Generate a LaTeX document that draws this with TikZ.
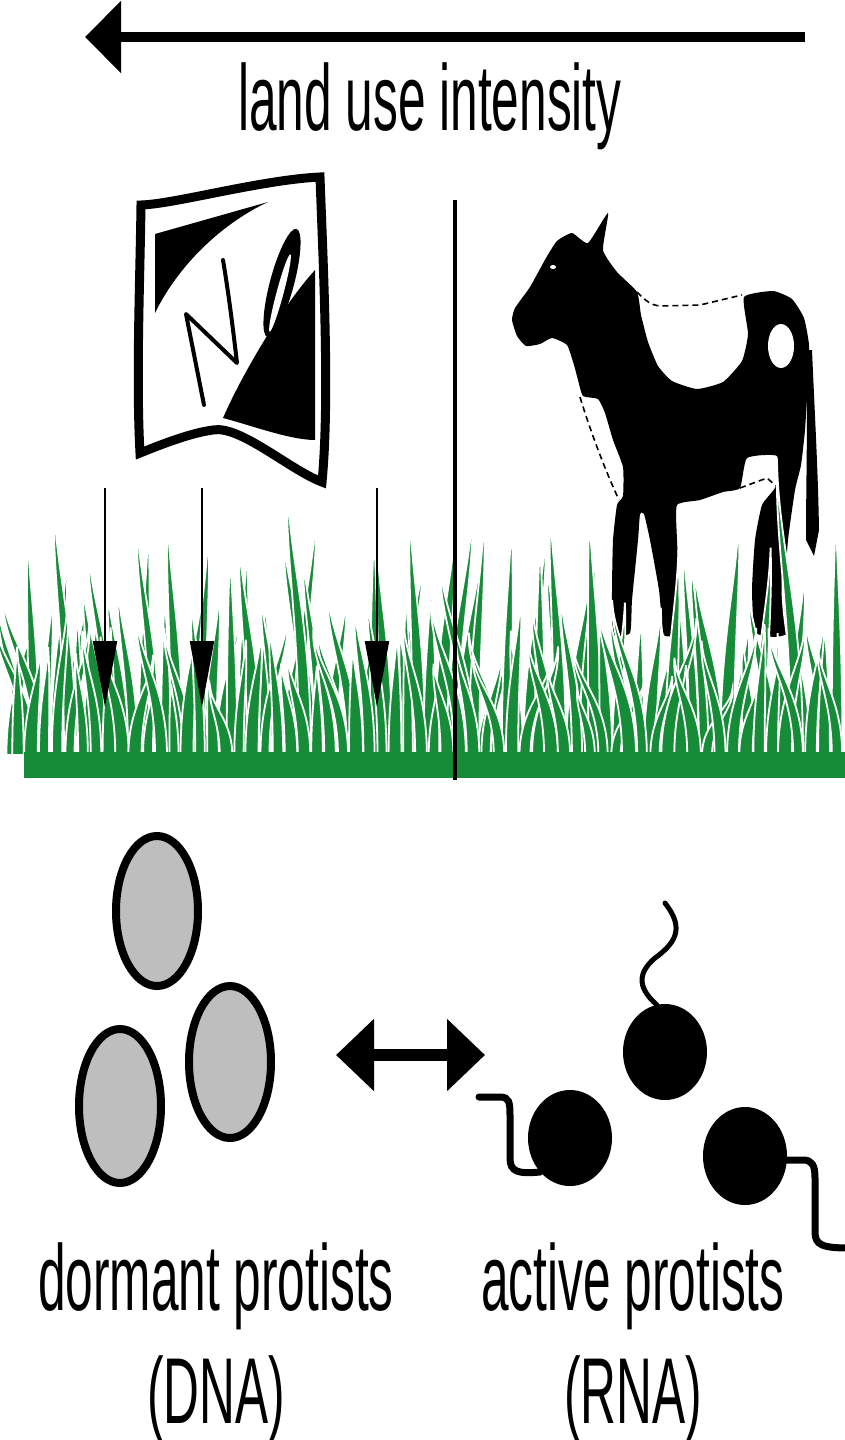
\documentclass[tikz,border=0pt]{standalone}
\usepackage{fontspec}
\newfontfamily\labelfont[FakeStretch=0.53]{Liberation Sans}
\usepackage{tikz}
\usetikzlibrary{arrows.meta}

\definecolor{grassgreen}{RGB}{22,140,56}
\definecolor{cellgray}{RGB}{190,190,190}

% one grass blade: base x, half width, tip x, tip y
\newcommand{\blade}[4]{%
  \filldraw[blade] ({#1-#2},755) .. controls ({#1-#2},{(755+#4)/2}) and ({#3-2},{#4+0.3*(755-#4)}) .. (#3,#4)
    .. controls ({#3+2},{#4+0.3*(755-#4)}) and ({#1+#2},{(755+#4)/2}) .. ({#1+#2},755) -- cycle;}

\begin{document}
\begin{tikzpicture}[x=0.5pt,y=-0.5pt,
  label/.style={font=\labelfont\fontsize{46.8}{56}\selectfont, inner sep=0pt, anchor=base},
  blade/.style={fill=grassgreen, draw=white, line width=0.9pt},
  bigarrow/.style={line width=5pt, -{Triangle[length=18pt,width=35pt]}},
  droparrow/.style={line width=1pt, -{Triangle[length=33pt,width=12pt]}},
  swaparrow/.style={line width=6pt, {Triangle[length=19pt,width=35pt]}-{Triangle[length=19pt,width=35pt]}},
  dormant/.style={fill=cellgray, draw=black, line width=4pt},
  flagellum/.style={line width=3.5pt, line cap=round},
  patchline/.style={line width=0.8pt, dash pattern=on 3pt off 2pt}]
\useasboundingbox (0,0) rectangle (845,1440);
\fill[white] (0,0) rectangle (845,1440);

% Land use arrow
\coordinate (lui-start) at (805,37);
\coordinate (lui-end) at (85,37);
\draw[bigarrow] (lui-start) -- (lui-end);
\node[label] (lui) at (430,130) {land use intensity};

% Fertilizer bag
\draw[line width=4.5pt, line join=miter, miter limit=20, fill=white]
  (141,205) .. controls (175,204) and (260,180) .. (320,177)
  .. controls (323,260) and (330,400) .. (322,482)
  .. controls (290,470) and (240,425) .. (213,430)
  .. controls (190,433) and (160,445) .. (140,453)
  .. controls (136,380) and (140,280) .. (141,205) -- cycle;
\fill (155,234) -- (268,202) .. controls (225,222) and (180,262) .. (155,313) -- cycle;
\fill (315,270) .. controls (285,303) and (245,368) .. (223,418)
  .. controls (250,425) and (290,440) .. (315,440) -- cycle;
\fill[rotate around={-15:(282,283)}] (282,283) ellipse [x radius=12, y radius=56];
\fill[white, rotate around={-15:(280,293)}] (280,293) ellipse [x radius=3.5, y radius=40];
\draw[line width=2pt, line join=round, line cap=round]
  (204,405) -- (186,314) -- (237,363) .. controls (232,320) and (228,290) .. (223,260);

% Cow
\fill plot[smooth cycle, tension=0.3] coordinates {
  (608,213) (603,250) (617,272) (637,292) (641,315) (648,342) (658,366) (672,381)
  (697,389) (723,382) (742,361) (748,334) (744,297) (773,291) (792,299) (804,318)
  (809,345) (808,380) (805,430) (801,465) (795,490) (788,540) (784,600) (789,632)
  (775,637) (755,632) (752,590) (755,540) (762,505) (776,486) (777,456) (747,458)
  (740,488) (723,492) (700,500) (677,505) (677,540) (680,600) (682,632) (664,635)
  (659,590) (650,540) (644,514) (640,514) (638,540) (632,600) (630,633) (613,634)
  (612,590) (613,540) (617,505) (623,496) (623,467) (613,440) (605,413) (598,399)
  (583,396) (578,380) (574,365) (567,345) (552,338) (540,344) (526,346) (517,336)
  (512,320) (515,308) (530,287) (546,258) (557,241) (572,233) (588,243)};
\fill (806,350) -- (812,350) .. controls (815,420) and (818,470) .. (819,530)
  -- (814,556) -- (806,540) .. controls (806,480) and (808,420) .. (806,350) -- cycle;
\fill[white] (781,346) ellipse [x radius=13, y radius=22];
\fill[white] (553,267) ellipse [x radius=3, y radius=2];
\draw[patchline] (637,292) .. controls (645,300) and (650,305) .. (660,306) -- (700,305) -- (742,295);
\draw[patchline] (580,397) .. controls (590,430) and (605,470) .. (619,500);
\draw[patchline] (740,488) -- (767,478) -- (776,486);

% Grass, back row then front row
\pgfmathsetseed{11}
\foreach \bx in {12,23,...,845} {
  \pgfmathsetmacro{\ty}{505+140*rnd}
  \pgfmathsetmacro{\tx}{\bx+55*(rnd-0.5)}
  \pgfmathsetmacro{\hw}{4.5+3*rnd}
  \blade{\bx}{\hw}{\tx}{\ty}
}
\foreach \bx/\tx/\ty in {40/2/590, 30/-5/620, 70/54/500, 305/287/478, 560/550/502, 797/777/462, 470/440/560} {
  \blade{\bx}{6}{\tx}{\ty}
}
\foreach \bx in {18,31,...,845} {
  \pgfmathsetmacro{\ty}{590+100*rnd}
  \pgfmathsetmacro{\tx}{\bx+60*(rnd-0.5)}
  \pgfmathsetmacro{\hw}{4.5+2.5*rnd}
  \blade{\bx}{\hw}{\tx}{\ty}
}
\fill[grassgreen] (24,752) rectangle (845,778);

% Fertilizer going down
\foreach \x [count=\i] in {105,202,377} {
  \coordinate (n\i) at (\x,488);
  \coordinate (s\i) at (\x,707);
  \draw[droparrow] (n\i) -- (s\i);
}

% Divider
\coordinate (div-top) at (455,200);
\coordinate (div-bot) at (455,780);
\draw[line width=2pt] (div-top) -- (div-bot);

% Dormant protists
\draw[dormant] (157,911) ellipse [x radius=41, y radius=75];
\draw[dormant] (230,1062) ellipse [x radius=41, y radius=76];
\draw[dormant] (120,1106) ellipse [x radius=41, y radius=77];

% Switch between states
\coordinate (dormant-side) at (336,1055);
\coordinate (active-side) at (485,1055);
\draw[swaparrow] (dormant-side) -- (active-side);

% Active protists
\fill (570,1138) ellipse [x radius=42, y radius=48];
\fill (665,1052) ellipse [x radius=42, y radius=48];
\fill (745,1156) ellipse [x radius=42, y radius=49];
\draw[flagellum] (479,1097) -- (500,1097) .. controls (509,1097) and (510,1102) .. (510,1115)
  -- (510,1158) .. controls (510,1172) and (518,1174) .. (540,1172);
\draw[flagellum, line width=2.5pt] (657,1005) .. controls (640,990) and (635,975) .. (655,958)
  .. controls (680,940) and (682,925) .. (665,903);
\draw[flagellum] (785,1160) -- (803,1160) .. controls (812,1160) and (815,1165) .. (815,1178)
  -- (815,1232) .. controls (815,1245) and (822,1248) .. (850,1248);

% Labels
\node[label] (dormant-label) at (216,1310) {dormant protists};
\node[label] (dna) at (216,1423) {(DNA)};
\node[label] (active-label) at (633,1310) {active protists};
\node[label] (rna) at (633,1423) {(RNA)};
\end{tikzpicture}
\end{document}
